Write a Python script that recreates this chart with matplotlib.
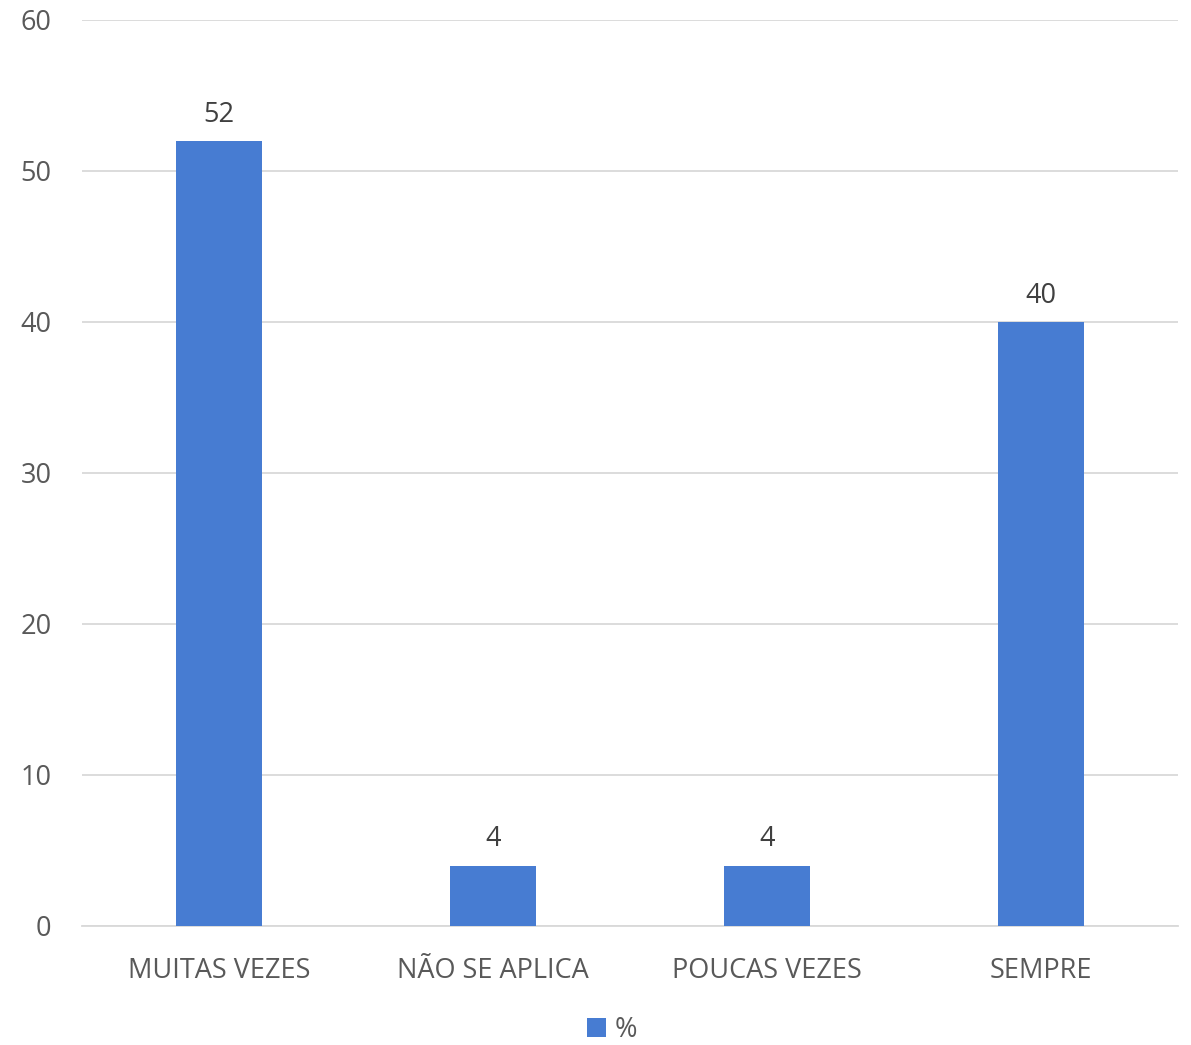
import matplotlib.pyplot as plt

categorias = ["MUITAS VEZES", "NÃO SE APLICA", "POUCAS VEZES", "SEMPRE"]
valores = [52, 4, 4, 40]
yticks = [0, 10, 20, 30, 40, 50, 60]

plt.rcParams['font.family'] = ['Open Sans', 'DejaVu Sans']

fig = plt.figure(figsize=(11.91, 10.45), dpi=100)
ax = fig.add_axes([0.0688, 0.1139, 0.9202, 0.867])

cor = "#477CD2"
texto = "#595959"
x = range(len(categorias))
barras = ax.bar(x, valores, width=0.314, color=cor, zorder=3, label="%")

for b, v in zip(barras, valores):
    ax.text(b.get_x() + b.get_width() / 2, v + 0.8, str(v), ha="center", va="bottom",
            fontsize=19.5, color="#404040")

ax.set_xlim(-0.5, len(categorias) - 0.5)
ax.set_ylim(0, 60)
ax.set_yticks(yticks)
ax.set_xticks(list(x))
ax.set_xticklabels(categorias)
ax.tick_params(axis="both", length=0, labelsize=19.5, colors=texto)
ax.tick_params(axis="y", pad=22)
ax.tick_params(axis="x", pad=22)

ax.grid(axis="y", color="#D9D9D9", linewidth=1.3, zorder=0)
for s in ["top", "right", "left"]:
    ax.spines[s].set_visible(False)
ax.spines["bottom"].set_color("#D9D9D9")
ax.spines["bottom"].set_linewidth(1.3)

leg = fig.legend(loc="center", bbox_to_anchor=(0.514, 0.014), frameon=False, fontsize=19.5,
                 handlelength=0.7, handleheight=0.7, handletextpad=0.3)
for t in leg.get_texts():
    t.set_color(texto)

fig.savefig("out.png", dpi=100)
